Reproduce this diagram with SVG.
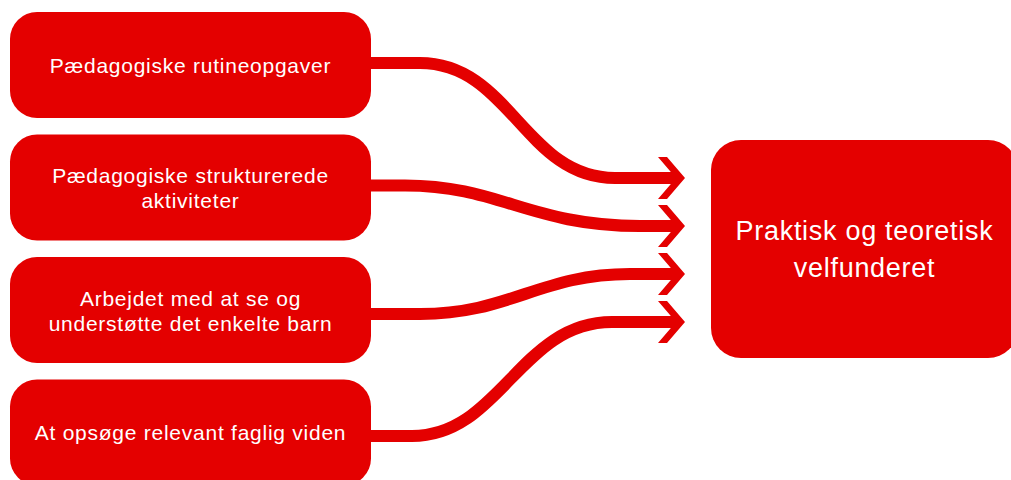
<svg xmlns="http://www.w3.org/2000/svg" xmlns:xlink="http://www.w3.org/1999/xlink" width="1011" height="480" viewBox="0 0 1011 480">
<style>
.box{fill:#E40000;}
.lbl{fill:#ffffff;font-family:"Liberation Sans",Arial,sans-serif;font-size:21px;letter-spacing:0.75px;text-anchor:middle;}
.big{font-size:27px;letter-spacing:0.7px;}
.conn{fill:none;stroke:#E40000;stroke-width:12;}
.head{fill:#E40000;}
</style>
<defs>
<polygon id="chev" points="-20,-21 -11,-21 7,0 -11,21 -20,21 -2,0"/>
</defs>
<rect width="1011" height="480" fill="#ffffff"/>
<g id="connectors">
<path class="conn" d="M365,63 H420 C510,63 525,178 615,178 H677"/>
<path class="conn" d="M365,185.5 H405 C500,185.5 530,226 640,226 H677"/>
<path class="conn" d="M365,314 H420 C510,314 540,274 630,274 H677"/>
<path class="conn" d="M365,436 H412 C500,436 520,322 612,322 H677"/>
<use xlink:href="#chev" class="head" transform="translate(678,178)"/>
<use xlink:href="#chev" class="head" transform="translate(678,226)"/>
<use xlink:href="#chev" class="head" transform="translate(678,274)"/>
<use xlink:href="#chev" class="head" transform="translate(678,322)"/>
</g>
<g id="node1">
<rect class="box" x="10" y="12" width="361" height="106" rx="27"/>
<text class="lbl" x="190.5" y="72.7">Pædagogiske rutineopgaver</text>
</g>
<g id="node2">
<rect class="box" x="10" y="134.5" width="361" height="106" rx="27"/>
<text class="lbl" x="190.5" y="183.3">Pædagogiske strukturerede</text>
<text class="lbl" x="190.5" y="207.8">aktiviteter</text>
</g>
<g id="node3">
<rect class="box" x="10" y="257" width="361" height="106" rx="27"/>
<text class="lbl" x="190.5" y="305.5">Arbejdet med at se og</text>
<text class="lbl" x="190.5" y="330.5">understøtte det enkelte barn</text>
</g>
<g id="node4">
<rect class="box" x="10" y="379.5" width="361" height="106" rx="27"/>
<text class="lbl" x="190.5" y="440">At opsøge relevant faglig viden</text>
</g>
<g id="target">
<rect class="box" x="711" y="140" width="307" height="218" rx="30"/>
<text class="lbl big" x="864.5" y="240">Praktisk og teoretisk</text>
<text class="lbl big" x="864.5" y="276.7">velfunderet</text>
</g>
</svg>
